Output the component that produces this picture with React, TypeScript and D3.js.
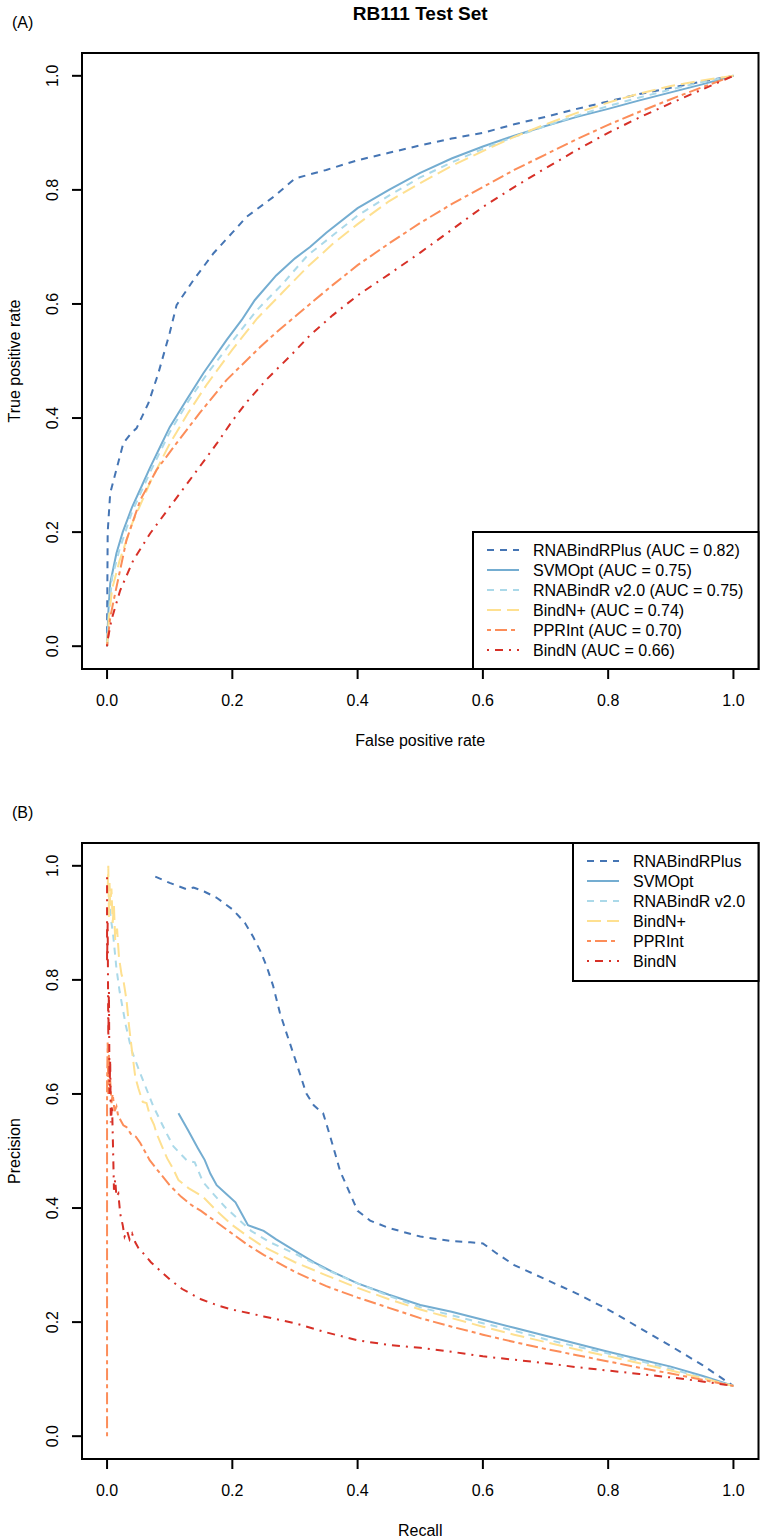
import React from "react";
import * as d3 from "d3";

// ROC curves (false positive rate, true positive rate)
const rocRNABindRPlus: [number, number][] = [
  [0, 0], [0, 0.023], [0.001, 0.2], [0.005, 0.268], [0.015, 0.31], [0.026, 0.356],
  [0.039, 0.374], [0.047, 0.382], [0.066, 0.426], [0.082, 0.479], [0.1, 0.549],
  [0.111, 0.598], [0.138, 0.642], [0.17, 0.689], [0.2, 0.725], [0.223, 0.753],
  [0.266, 0.788], [0.3, 0.82], [0.35, 0.835], [0.4, 0.852], [0.45, 0.865], [0.5, 0.878],
  [0.55, 0.89], [0.6, 0.9], [0.65, 0.915], [0.7, 0.928], [0.75, 0.942], [0.8, 0.955],
  [0.85, 0.968], [0.9, 0.979], [0.95, 0.99], [1, 1],
];
const rocSVMOpt: [number, number][] = [
  [0, 0], [0.002, 0.06], [0.005, 0.11], [0.015, 0.163], [0.025, 0.2], [0.04, 0.244],
  [0.055, 0.28], [0.069, 0.314], [0.085, 0.35], [0.1, 0.384], [0.127, 0.432],
  [0.154, 0.479], [0.191, 0.537], [0.215, 0.572], [0.236, 0.607], [0.27, 0.65],
  [0.3, 0.68], [0.324, 0.7], [0.35, 0.725], [0.4, 0.768], [0.45, 0.8], [0.5, 0.83],
  [0.55, 0.855], [0.6, 0.876], [0.65, 0.895], [0.7, 0.912], [0.75, 0.928], [0.8, 0.942],
  [0.85, 0.957], [0.9, 0.971], [0.95, 0.985], [1, 1],
];
const rocRNABindRv2: [number, number][] = [
  [0, 0], [0.003, 0.06], [0.008, 0.12], [0.02, 0.17], [0.04, 0.236], [0.07, 0.308],
  [0.1, 0.375], [0.13, 0.43], [0.16, 0.478], [0.2, 0.535], [0.24, 0.59], [0.28, 0.635],
  [0.32, 0.685], [0.36, 0.72], [0.4, 0.755], [0.45, 0.79], [0.5, 0.822], [0.55, 0.848],
  [0.6, 0.872], [0.65, 0.893], [0.7, 0.912], [0.75, 0.93], [0.8, 0.947], [0.85, 0.962],
  [0.9, 0.976], [0.95, 0.989], [1, 1],
];
const rocBindNPlus: [number, number][] = [
  [0, 0], [0.003, 0.05], [0.008, 0.1], [0.02, 0.15], [0.04, 0.215], [0.07, 0.29],
  [0.1, 0.355], [0.13, 0.41], [0.16, 0.46], [0.2, 0.52], [0.24, 0.575], [0.28, 0.62],
  [0.32, 0.665], [0.36, 0.705], [0.4, 0.74], [0.45, 0.78], [0.5, 0.812], [0.55, 0.842],
  [0.6, 0.868], [0.65, 0.893], [0.7, 0.915], [0.75, 0.935], [0.8, 0.953], [0.85, 0.969],
  [0.9, 0.982], [0.95, 0.992], [1, 1],
];
const rocPPRInt: [number, number][] = [
  [0, 0], [0.005, 0.05], [0.013, 0.093], [0.031, 0.186], [0.053, 0.256], [0.079, 0.309],
  [0.111, 0.356], [0.148, 0.409], [0.191, 0.467], [0.244, 0.524], [0.27, 0.55],
  [0.297, 0.575], [0.324, 0.6], [0.36, 0.633], [0.4, 0.668], [0.45, 0.706], [0.5, 0.742],
  [0.55, 0.775], [0.6, 0.805], [0.65, 0.835], [0.7, 0.862], [0.75, 0.889], [0.8, 0.914],
  [0.85, 0.937], [0.9, 0.959], [0.95, 0.98], [1, 1],
];
const rocBindN: [number, number][] = [
  [0, 0], [0, 0.005], [0.007, 0.046], [0.021, 0.098], [0.042, 0.151], [0.069, 0.198],
  [0.1, 0.244], [0.138, 0.3], [0.175, 0.355], [0.2, 0.395], [0.223, 0.428], [0.255, 0.468],
  [0.297, 0.514], [0.324, 0.545], [0.36, 0.58], [0.4, 0.615], [0.45, 0.652], [0.5, 0.69],
  [0.55, 0.73], [0.6, 0.77], [0.65, 0.805], [0.7, 0.838], [0.75, 0.87], [0.8, 0.9],
  [0.85, 0.927], [0.9, 0.952], [0.95, 0.976], [1, 1],
];

// Precision-recall curves (recall, precision)
const prRNABindRPlus: [number, number][] = [
  [0.077, 0.981], [0.1, 0.97], [0.127, 0.959], [0.138, 0.962], [0.155, 0.955],
  [0.175, 0.944], [0.201, 0.923], [0.22, 0.9], [0.233, 0.876], [0.245, 0.85],
  [0.255, 0.823], [0.265, 0.79], [0.276, 0.742], [0.287, 0.705], [0.297, 0.672],
  [0.308, 0.635], [0.318, 0.601], [0.33, 0.58], [0.345, 0.566], [0.355, 0.53],
  [0.364, 0.496], [0.372, 0.465], [0.38, 0.445], [0.39, 0.42], [0.4, 0.395],
  [0.42, 0.378], [0.45, 0.365], [0.5, 0.35], [0.55, 0.342], [0.58, 0.34], [0.6, 0.338],
  [0.62, 0.322], [0.65, 0.3], [0.7, 0.275], [0.75, 0.25], [0.8, 0.222], [0.85, 0.19],
  [0.9, 0.158], [0.95, 0.125], [1, 0.088],
];
const prSVMOpt: [number, number][] = [
  [0.114, 0.566], [0.13, 0.535], [0.145, 0.505], [0.156, 0.484], [0.165, 0.46],
  [0.175, 0.44], [0.19, 0.425], [0.205, 0.41], [0.215, 0.39], [0.225, 0.37],
  [0.25, 0.36], [0.27, 0.345], [0.3, 0.325], [0.33, 0.305], [0.36, 0.288], [0.4, 0.268],
  [0.45, 0.248], [0.5, 0.23], [0.55, 0.218], [0.6, 0.204], [0.65, 0.19], [0.7, 0.176],
  [0.75, 0.162], [0.8, 0.148], [0.85, 0.135], [0.9, 0.122], [0.95, 0.106], [1, 0.088],
];
const prRNABindRv2: [number, number][] = [
  [0.002, 0.97], [0.005, 0.917], [0.01, 0.876], [0.015, 0.82], [0.02, 0.78], [0.03, 0.72],
  [0.039, 0.677], [0.053, 0.636], [0.074, 0.578], [0.095, 0.531], [0.106, 0.508],
  [0.127, 0.484], [0.14, 0.48], [0.153, 0.446], [0.171, 0.423], [0.19, 0.4], [0.21, 0.38],
  [0.23, 0.36], [0.26, 0.34], [0.3, 0.32], [0.35, 0.292], [0.4, 0.268], [0.45, 0.246],
  [0.5, 0.226], [0.55, 0.212], [0.6, 0.198], [0.65, 0.185], [0.7, 0.17], [0.75, 0.157],
  [0.8, 0.145], [0.85, 0.132], [0.9, 0.118], [0.95, 0.103], [1, 0.088],
];
const prBindNPlus: [number, number][] = [
  [0.001, 0.96], [0.002, 1.0], [0.003, 0.91], [0.004, 0.97], [0.005, 0.93], [0.007, 0.96],
  [0.009, 0.9], [0.011, 0.93], [0.013, 0.87], [0.016, 0.89], [0.019, 0.84], [0.023, 0.81],
  [0.026, 0.8], [0.031, 0.765], [0.035, 0.72], [0.039, 0.683], [0.045, 0.63], [0.05, 0.61],
  [0.057, 0.586], [0.063, 0.584], [0.069, 0.56], [0.075, 0.546], [0.079, 0.531],
  [0.087, 0.51], [0.096, 0.487], [0.105, 0.47], [0.114, 0.449], [0.13, 0.435],
  [0.153, 0.42], [0.175, 0.395], [0.2, 0.37], [0.225, 0.35], [0.25, 0.332], [0.3, 0.305],
  [0.35, 0.282], [0.4, 0.26], [0.45, 0.24], [0.5, 0.222], [0.55, 0.207], [0.6, 0.192],
  [0.65, 0.178], [0.7, 0.165], [0.75, 0.152], [0.8, 0.14], [0.85, 0.128], [0.9, 0.115],
  [0.95, 0.102], [1, 0.088],
];
const prPPRInt: [number, number][] = [
  [0, 0], [0, 0.62], [0.001, 0.69], [0.002, 0.6], [0.003, 0.67], [0.004, 0.62],
  [0.005, 0.625], [0.007, 0.584], [0.009, 0.6], [0.012, 0.57], [0.015, 0.578],
  [0.018, 0.56], [0.021, 0.555], [0.026, 0.545], [0.031, 0.542], [0.038, 0.53],
  [0.046, 0.525], [0.053, 0.514], [0.06, 0.5], [0.068, 0.484], [0.078, 0.47],
  [0.089, 0.455], [0.1, 0.44], [0.118, 0.42], [0.135, 0.405], [0.15, 0.395],
  [0.175, 0.375], [0.2, 0.355], [0.225, 0.335], [0.25, 0.318], [0.3, 0.288],
  [0.35, 0.263], [0.4, 0.243], [0.45, 0.225], [0.5, 0.207], [0.55, 0.192], [0.6, 0.178],
  [0.65, 0.165], [0.7, 0.153], [0.75, 0.142], [0.8, 0.131], [0.85, 0.12], [0.9, 0.11],
  [0.95, 0.099], [1, 0.088],
];
const prBindN: [number, number][] = [
  [0, 0.98], [0, 0.83], [0.001, 0.9], [0.002, 0.7], [0.003, 0.78], [0.004, 0.6],
  [0.005, 0.66], [0.006, 0.55], [0.008, 0.58], [0.01, 0.484], [0.011, 0.432],
  [0.013, 0.45], [0.015, 0.42], [0.018, 0.425], [0.021, 0.39], [0.025, 0.37],
  [0.028, 0.35], [0.032, 0.36], [0.036, 0.345], [0.04, 0.355], [0.045, 0.34], [0.05, 0.33],
  [0.06, 0.318], [0.07, 0.305], [0.08, 0.295], [0.1, 0.275], [0.12, 0.258], [0.15, 0.24],
  [0.18, 0.228], [0.2, 0.222], [0.25, 0.21], [0.3, 0.198], [0.35, 0.182], [0.4, 0.168],
  [0.45, 0.16], [0.5, 0.155], [0.55, 0.148], [0.6, 0.14], [0.65, 0.134], [0.7, 0.128],
  [0.75, 0.121], [0.8, 0.115], [0.85, 0.109], [0.9, 0.103], [0.95, 0.096], [1, 0.088],
];

const methods = ["RNABindRPlus", "SVMOpt", "RNABindR v2.0", "BindN+", "PPRInt", "BindN"];
const aucValues = ["0.82", "0.75", "0.75", "0.74", "0.70", "0.66"];
const colors = ["#4575b4", "#74add1", "#abd9e9", "#fee090", "#fc8d59", "#d73027"];
const dashes = ["7,6", "", "7,6", "14,6", "4,4,12,4", "2,6,8,6"];
const ticks = [0, 0.2, 0.4, 0.6, 0.8, 1.0];

const rocSeries = [rocRNABindRPlus, rocSVMOpt, rocRNABindRv2, rocBindNPlus, rocPPRInt, rocBindN];
const prSeries = [prRNABindRPlus, prSVMOpt, prRNABindRv2, prBindNPlus, prPPRInt, prBindN];

const W = 764;
const H = 1540;
const FONT = "'Liberation Sans', Arial, Helvetica, sans-serif";

const left = 82;
const right = 758.5;

function Panel({ top, series, legendLabels, legendBox, xLabel, yLabel, tag }) {
  const bottom = top + 616;
  const x = d3.scaleLinear().domain([-0.04, 1.04]).range([left, right]);
  const y = d3.scaleLinear().domain([-0.04, 1.04]).range([bottom, top]);
  const line = d3
    .line<[number, number]>()
    .x((d) => x(d[0]))
    .y((d) => y(d[1]));

  const lg = legendBox;
  return (
    <g>
      <text x={12} y={top - 25} fontSize={16} fontFamily={FONT}>
        {tag}
      </text>

      {/* curves */}
      {series.map((s, i) => (
        <path
          key={i}
          d={line(s) || ""}
          fill="none"
          stroke={colors[i]}
          strokeWidth={2}
          strokeDasharray={dashes[i] || undefined}
        />
      ))}

      {/* box */}
      <rect x={left} y={top} width={right - left} height={bottom - top} fill="none" stroke="#000" strokeWidth={2} />

      {/* x axis */}
      {ticks.map((t) => (
        <g key={"x" + t}>
          <line x1={x(t)} x2={x(t)} y1={bottom} y2={bottom + 10} stroke="#000" strokeWidth={2} />
          <text x={x(t)} y={bottom + 37} textAnchor="middle" fontSize={16} fontFamily={FONT}>
            {t.toFixed(1)}
          </text>
        </g>
      ))}
      <text x={(left + right) / 2} y={bottom + 77} textAnchor="middle" fontSize={16} fontFamily={FONT}>
        {xLabel}
      </text>

      {/* y axis */}
      {ticks.map((t) => (
        <g key={"y" + t}>
          <line x1={left - 10} x2={left} y1={y(t)} y2={y(t)} stroke="#000" strokeWidth={2} />
          <text
            transform={`translate(58,${y(t)}) rotate(-90)`}
            textAnchor="middle"
            fontSize={16}
            fontFamily={FONT}
          >
            {t.toFixed(1)}
          </text>
        </g>
      ))}
      <text
        transform={`translate(20,${(top + bottom) / 2}) rotate(-90)`}
        textAnchor="middle"
        fontSize={16}
        fontFamily={FONT}
      >
        {yLabel}
      </text>

      {/* legend */}
      <rect x={lg.x} y={lg.y} width={right - lg.x} height={lg.h} fill="#fff" stroke="#000" strokeWidth={2} />
      {legendLabels.map((lab, i) => {
        const cy = lg.y + 18 + i * 20;
        return (
          <g key={"l" + i}>
            <line
              x1={lg.x + 14}
              x2={lg.x + 46}
              y1={cy}
              y2={cy}
              stroke={colors[i]}
              strokeWidth={2}
              strokeDasharray={dashes[i] || undefined}
            />
            <text x={lg.x + 60} y={cy + 5.5} fontSize={16} fontFamily={FONT}>
              {lab}
            </text>
          </g>
        );
      })}
    </g>
  );
}

export default function App() {
  const rocLabels = methods.map((m, i) => `${m} (AUC = ${aucValues[i]})`);
  return (
    <svg
      width={W}
      height={H}
      style={{ position: "absolute", left: 0, top: 0, background: "#fff" }}
    >
      <rect width={W} height={H} fill="#fff" />
      <text
        x={(left + right) / 2}
        y={20}
        textAnchor="middle"
        fontSize={19}
        fontWeight="bold"
        fontFamily={FONT}
      >
        RB111 Test Set
      </text>
      <Panel
        top={53}
        series={rocSeries}
        legendLabels={rocLabels}
        legendBox={{ x: 473, y: 532, h: 137 }}
        xLabel="False positive rate"
        yLabel="True positive rate"
        tag="(A)"
      />
      <Panel
        top={843}
        series={prSeries}
        legendLabels={methods}
        legendBox={{ x: 573, y: 843, h: 138 }}
        xLabel="Recall"
        yLabel="Precision"
        tag="(B)"
      />
    </svg>
  );
}
